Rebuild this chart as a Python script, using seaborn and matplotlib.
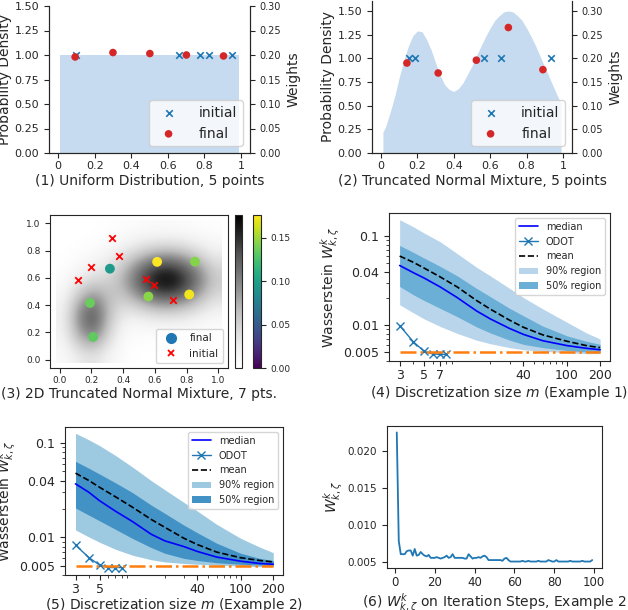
import numpy as np
import matplotlib
matplotlib.use('Agg')
import matplotlib.pyplot as plt
import seaborn as sns
from matplotlib.lines import Line2D
from matplotlib.colors import Normalize
from matplotlib.cm import ScalarMappable
from matplotlib.ticker import NullFormatter

# (1) uniform distribution, 5 points
uni_x = [0.01, 0.99]
uni_density = [1.0, 1.0]
uni_init_x = [0.096, 0.664, 0.778, 0.827, 0.949]
uni_init_w = [0.2, 0.2, 0.2, 0.2, 0.2]
uni_final_x = [0.093, 0.300, 0.502, 0.702, 0.905]
uni_final_w = [0.196, 0.205, 0.203, 0.200, 0.198]

# (2) truncated normal mixture, 5 points
mix_x = [0.01, 0.025, 0.05, 0.075, 0.10, 0.125, 0.15, 0.175, 0.20, 0.225, 0.25,
         0.275, 0.30, 0.325, 0.35, 0.375, 0.40, 0.425, 0.45, 0.475, 0.50,
         0.525, 0.55, 0.575, 0.60, 0.625, 0.65, 0.675, 0.70, 0.725, 0.75,
         0.775, 0.80, 0.825, 0.85, 0.875, 0.90, 0.925, 0.95, 0.975, 0.99]
mix_density = [0.22, 0.28, 0.43, 0.60, 0.80, 0.98, 1.13, 1.24, 1.29, 1.28, 1.20,
               1.09, 0.95, 0.82, 0.72, 0.67, 0.65, 0.68, 0.74, 0.83, 0.92,
               1.03, 1.13, 1.23, 1.32, 1.40, 1.45, 1.49, 1.50, 1.49, 1.45,
               1.40, 1.32, 1.23, 1.13, 1.02, 0.91, 0.80, 0.69, 0.58, 0.53]
mix_init_x = [0.155, 0.186, 0.566, 0.660, 0.934]
mix_init_w = [0.2, 0.2, 0.2, 0.2, 0.2]
mix_final_x = [0.142, 0.314, 0.524, 0.700, 0.890]
mix_final_w = [0.190, 0.169, 0.196, 0.265, 0.176]

# (3) 2D truncated normal mixture, density on a 0.1 grid (rows: y = 0 .. 1)
heat_grid = [
    [0.04, 0.15, 0.21, 0.09, 0.02, 0.00, 0.00, 0.00, 0.00, 0.00, 0.00],
    [0.07, 0.31, 0.44, 0.19, 0.03, 0.01, 0.01, 0.01, 0.01, 0.01, 0.00],
    [0.10, 0.47, 0.66, 0.29, 0.06, 0.04, 0.05, 0.05, 0.04, 0.03, 0.02],
    [0.11, 0.53, 0.76, 0.35, 0.13, 0.13, 0.18, 0.19, 0.17, 0.11, 0.06],
    [0.09, 0.45, 0.66, 0.36, 0.24, 0.34, 0.46, 0.49, 0.42, 0.29, 0.16],
    [0.06, 0.29, 0.45, 0.33, 0.37, 0.59, 0.79, 0.85, 0.73, 0.49, 0.27],
    [0.03, 0.14, 0.24, 0.26, 0.42, 0.69, 0.93, 0.99, 0.85, 0.58, 0.31],
    [0.01, 0.05, 0.11, 0.18, 0.33, 0.55, 0.74, 0.79, 0.67, 0.46, 0.25],
    [0.00, 0.02, 0.04, 0.09, 0.18, 0.29, 0.39, 0.42, 0.36, 0.24, 0.13],
    [0.00, 0.00, 0.01, 0.03, 0.06, 0.11, 0.14, 0.15, 0.13, 0.09, 0.05],
    [0.00, 0.00, 0.00, 0.01, 0.02, 0.03, 0.04, 0.04, 0.03, 0.02, 0.01],
]
pts_final_x = [0.317, 0.614, 0.852, 0.192, 0.559, 0.816, 0.211]
pts_final_y = [0.667, 0.717, 0.719, 0.416, 0.463, 0.478, 0.167]
pts_final_w = [0.095, 0.176, 0.143, 0.136, 0.145, 0.172, 0.133]
pts_init_x = [0.328, 0.376, 0.196, 0.119, 0.541, 0.595, 0.716]
pts_init_y = [0.894, 0.759, 0.680, 0.584, 0.589, 0.544, 0.441]

# (4) / (5) Wasserstein distance vs discretization size
m_grid = [3, 4, 5, 7, 10, 15, 20, 30, 40, 60, 100, 150, 200]
ex1_median = [0.047, 0.039, 0.034, 0.027, 0.0205, 0.0145, 0.0118, 0.0092, 0.0079, 0.0067, 0.0059, 0.0055, 0.0053]
ex1_mean = [0.060, 0.051, 0.044, 0.035, 0.027, 0.019, 0.0152, 0.0114, 0.0095, 0.0078, 0.0066, 0.0059, 0.0056]
ex1_q75 = [0.079, 0.066, 0.057, 0.046, 0.036, 0.026, 0.021, 0.0155, 0.0128, 0.0098, 0.0076, 0.0066, 0.0061]
ex1_q25 = [0.0273, 0.022, 0.019, 0.0155, 0.0125, 0.0096, 0.0082, 0.0068, 0.0061, 0.0056, 0.0052, 0.0050, 0.0049]
ex1_q95 = [0.154, 0.128, 0.109, 0.087, 0.064, 0.045, 0.036, 0.026, 0.0205, 0.0153, 0.0108, 0.0082, 0.0070]
ex1_q05 = [0.017, 0.0138, 0.0118, 0.0097, 0.0081, 0.0068, 0.0062, 0.0056, 0.0053, 0.0051, 0.0049, 0.0048, 0.0048]

ex2_median = [0.037, 0.030, 0.0245, 0.019, 0.0148, 0.0108, 0.0092, 0.0080, 0.0071, 0.0062, 0.0056, 0.0053, 0.0052]
ex2_mean = [0.048, 0.040, 0.034, 0.027, 0.021, 0.0155, 0.0128, 0.0098, 0.0084, 0.0070, 0.0061, 0.0057, 0.0055]
ex2_q75 = [0.064, 0.054, 0.047, 0.038, 0.030, 0.022, 0.018, 0.0135, 0.0112, 0.0087, 0.0068, 0.0060, 0.0057]
ex2_q25 = [0.0205, 0.0172, 0.015, 0.0122, 0.0098, 0.0078, 0.0068, 0.0060, 0.0057, 0.0054, 0.0052, 0.0051, 0.0050]
ex2_q95 = [0.127, 0.108, 0.094, 0.074, 0.056, 0.040, 0.032, 0.0235, 0.019, 0.0138, 0.0098, 0.0079, 0.0069]
ex2_q05 = [0.012, 0.0101, 0.0089, 0.0075, 0.0065, 0.0058, 0.0055, 0.0053, 0.0052, 0.0051, 0.0050, 0.0049, 0.0049]

odot_m = [3, 4, 5, 6, 7, 8]
ex1_odot = [0.0099, 0.0065, 0.0051, 0.00475, 0.0047, 0.0047]
ex2_odot = [0.0083, 0.0061, 0.0051, 0.0048, 0.0048, 0.0048]
optimal_m = [3, 200]
optimal_w = [0.005, 0.005]

# (6) W over iteration steps, example 2
iter_steps = list(range(1, 100))
iter_w = [0.0225, 0.0078, 0.0060, 0.0060, 0.0060, 0.0064, 0.0065, 0.0065, 0.0058, 0.0067,
          0.0058, 0.0059, 0.0063, 0.0060, 0.0058, 0.0057, 0.0059, 0.0055, 0.0055, 0.0055,
          0.0056, 0.0055, 0.0054, 0.0055, 0.0056, 0.0058, 0.0055, 0.0056, 0.0060, 0.0055,
          0.0055, 0.0055, 0.0055, 0.0055, 0.0054, 0.0054, 0.0060, 0.0057, 0.0054, 0.0055,
          0.0055, 0.0056, 0.0055, 0.0057, 0.0058, 0.0056, 0.0052, 0.0052, 0.0052, 0.0052,
          0.0052, 0.0052, 0.0052, 0.0051, 0.0054, 0.0055, 0.0052, 0.0050, 0.0050, 0.0050,
          0.0050, 0.0050, 0.0050, 0.0051, 0.0050, 0.0050, 0.0051, 0.0050, 0.0050, 0.0050,
          0.0050, 0.0051, 0.0050, 0.0050, 0.0050, 0.0050, 0.0052, 0.0051, 0.0050, 0.0050,
          0.0052, 0.0050, 0.0050, 0.0050, 0.0050, 0.0050, 0.0050, 0.0051, 0.0050, 0.0050,
          0.0050, 0.0050, 0.0050, 0.0051, 0.0050, 0.0050, 0.0050, 0.0050, 0.0052]

sns.set_style('ticks')
plt.rcParams['font.family'] = ['DejaVu Sans']
plt.rcParams['mathtext.fontset'] = 'dejavusans'

W, H = 628, 610
fig = plt.figure(figsize=(W / 100, H / 100), dpi=100)


def px_axes(left, top, right, bottom):
    # axes placed by pixel box of the reference image
    return fig.add_axes([left / W, 1 - bottom / H, (right - left) / W, (bottom - top) / H])


def density_panel(box, xs, dens, init_x, init_w, fin_x, fin_w, ymax, label):
    ax = px_axes(*box)
    ax.fill_between(xs, 0, dens, color='#c6dbef', lw=0)
    ax.set_xlim(-0.05, 1.05)
    ax.set_ylim(0, ymax)
    ax.set_xticks([0, 0.2, 0.4, 0.6, 0.8, 1.0])
    ax.set_xticklabels(['0', '0.2', '0.4', '0.6', '0.8', '1'])
    ax.set_yticks([0, 0.25, 0.5, 0.75, 1.0, 1.25, 1.5])
    ax.tick_params(labelsize=8)
    ax.tick_params(axis='x', pad=2.5)
    ax.set_ylabel('Probability Density', fontsize=10, labelpad=2)
    ax.set_xlabel(label, fontsize=10, labelpad=2)
    ax2 = ax.twinx()
    sns.scatterplot(x=init_x, y=init_w, marker='x', color='tab:blue', s=22,
                    linewidth=1.2, ax=ax2, label='initial')
    sns.scatterplot(x=fin_x, y=fin_w, marker='o', color='#d62728', s=30,
                    edgecolor='none', ax=ax2, label='final')
    ax2.set_ylim(0, ymax / 5)
    ax2.set_yticks([0, 0.05, 0.1, 0.15, 0.2, 0.25, 0.3])
    ax2.tick_params(labelsize=7)
    ax2.set_ylabel('Weights', fontsize=10)
    ax2.legend(loc='lower right', fontsize=10, handletextpad=1.2)
    for a in (ax, ax2):
        a.spines['top'].set_visible(False)
    return ax


density_panel((49, 6, 250, 153), uni_x, uni_density, uni_init_x, uni_init_w,
              uni_final_x, uni_final_w, 1.5, '(1) Uniform Distribution, 5 points')
density_panel((372, 1, 572, 153), mix_x, mix_density, mix_init_x, mix_init_w,
              mix_final_x, mix_final_w, 1.605, '(2) Truncated Normal Mixture, 5 points')

# (3) 2D heatmap with points
ax3 = px_axes(50, 215, 228, 368)
im = ax3.imshow(np.array(heat_grid), origin='lower', extent=(-0.02, 1.02, -0.02, 1.02),
                cmap='Greys', interpolation='bicubic', aspect='auto', vmin=0, vmax=1)
vmax = max(pts_final_w)
sns.scatterplot(x=pts_final_x, y=pts_final_y, hue=pts_final_w, palette='viridis',
                hue_norm=(0, vmax), s=50, edgecolor='none', legend=False, ax=ax3, zorder=3)
sns.scatterplot(x=pts_init_x, y=pts_init_y, marker='x', color='red', s=22,
                linewidth=1.3, ax=ax3, zorder=3)
ax3.set_xlim(-0.06, 1.06)
ax3.set_ylim(-0.06, 1.06)
ax3.set_xticks([0, 0.2, 0.4, 0.6, 0.8, 1.0])
ax3.set_yticks([0, 0.2, 0.4, 0.6, 0.8, 1.0])
ax3.tick_params(labelsize=6.5)
ax3.tick_params(axis='x', pad=2)
handles = [Line2D([], [], marker='o', color='tab:blue', ls='', markersize=7),
           Line2D([], [], marker='x', color='red', ls='', markersize=5, mew=1.3)]
ax3.legend(handles, ['final', 'initial'], loc='lower right', fontsize=7.5)
ax3.set_xlabel('(3) 2D Truncated Normal Mixture, 7 pts.', fontsize=10, labelpad=2)
cax_g = px_axes(235, 215, 242, 368)
fig.colorbar(im, cax=cax_g)
cax_g.set_yticks([])
cax_v = px_axes(253, 215, 261, 368)
fig.colorbar(ScalarMappable(norm=Normalize(0, vmax), cmap='viridis'), cax=cax_v,
             ticks=[0, 0.05, 0.1, 0.15])
cax_v.tick_params(labelsize=6.5)


def wasserstein_panel(box, med, mean, q05, q95, q25, q75, odot, c90, c50, ylim,
                      xticks, label, xpad):
    ax = px_axes(*box)
    ax.fill_between(m_grid, q05, q95, color=c90, lw=0, label='90% region')
    ax.fill_between(m_grid, q25, q75, color=c50, lw=0, label='50% region')
    sns.lineplot(x=m_grid, y=med, color='blue', lw=1.2, ax=ax, label='median')
    sns.lineplot(x=odot_m, y=odot, color='tab:blue', marker='x', markersize=6,
                 markeredgewidth=1, markeredgecolor='tab:blue', lw=1, ax=ax, label='ODOT')
    sns.lineplot(x=m_grid, y=mean, color='black', ls='--', lw=1.2, ax=ax, label='mean')
    sns.lineplot(x=optimal_m, y=optimal_w, color='tab:orange', ls='-.', lw=1.8, ax=ax)
    ax.set_xscale('log')
    ax.set_yscale('log')
    ax.set_xlim(2.4, 246)
    ax.set_ylim(*ylim)
    ax.set_xticks(xticks)
    ax.set_xticklabels([str(t) for t in xticks])
    ax.set_yticks([0.005, 0.01, 0.04, 0.1])
    ax.set_yticklabels(['0.005', '0.01', '0.04', '0.1'])
    ax.xaxis.set_minor_formatter(NullFormatter())
    ax.yaxis.set_minor_formatter(NullFormatter())
    ax.tick_params(labelsize=9)
    ax.tick_params(axis='x', pad=2)
    h, l = ax.get_legend_handles_labels()
    order = ['median', 'ODOT', 'mean', '90% region', '50% region']
    hs = [h[l.index(o)] for o in order]
    ax.legend(hs, order, loc='upper right', fontsize=7)
    ax.set_ylabel(r'Wasserstein $W^k_{k,\zeta}$', fontsize=10, labelpad=1)
    ax.set_xlabel(label, fontsize=10, labelpad=xpad)
    return ax


wasserstein_panel((389, 213, 610, 361), ex1_median, ex1_mean, ex1_q05, ex1_q95,
                  ex1_q25, ex1_q75, ex1_odot, '#b9d5eb', '#6baed6', (0.00396, 0.183),
                  [3, 5, 7, 40, 100, 200], r'(4) Discretization size $m$ (Example 1)', 1.5)
wasserstein_panel((65, 427, 283, 575), ex2_median, ex2_mean, ex2_q05, ex2_q95,
                  ex2_q25, ex2_q75, ex2_odot, '#9ecae1', '#4292c6', (0.0040, 0.148),
                  [3, 5, 40, 100, 200], r'(5) Discretization size $m$ (Example 2)', 0.5)

# (6) iteration steps
ax6 = px_axes(387, 426, 602, 568)
sns.lineplot(x=iter_steps, y=iter_w, color='tab:blue', lw=1.3, ax=ax6)
ax6.set_yticks([0.005, 0.010, 0.015, 0.020])
ax6.set_xticks([0, 20, 40, 60, 80, 100])
ax6.tick_params(axis='x', labelsize=8.5, pad=2)
ax6.tick_params(axis='y', labelsize=7.5)
ax6.set_ylabel(r'$W^k_{k,\zeta}$', fontsize=10, labelpad=2)
ax6.set_xlabel(r'(6) $W^k_{k,\zeta}$ on Iteration Steps, Example 2', fontsize=10, labelpad=1.5)

fig.savefig('out.png', dpi=100)
